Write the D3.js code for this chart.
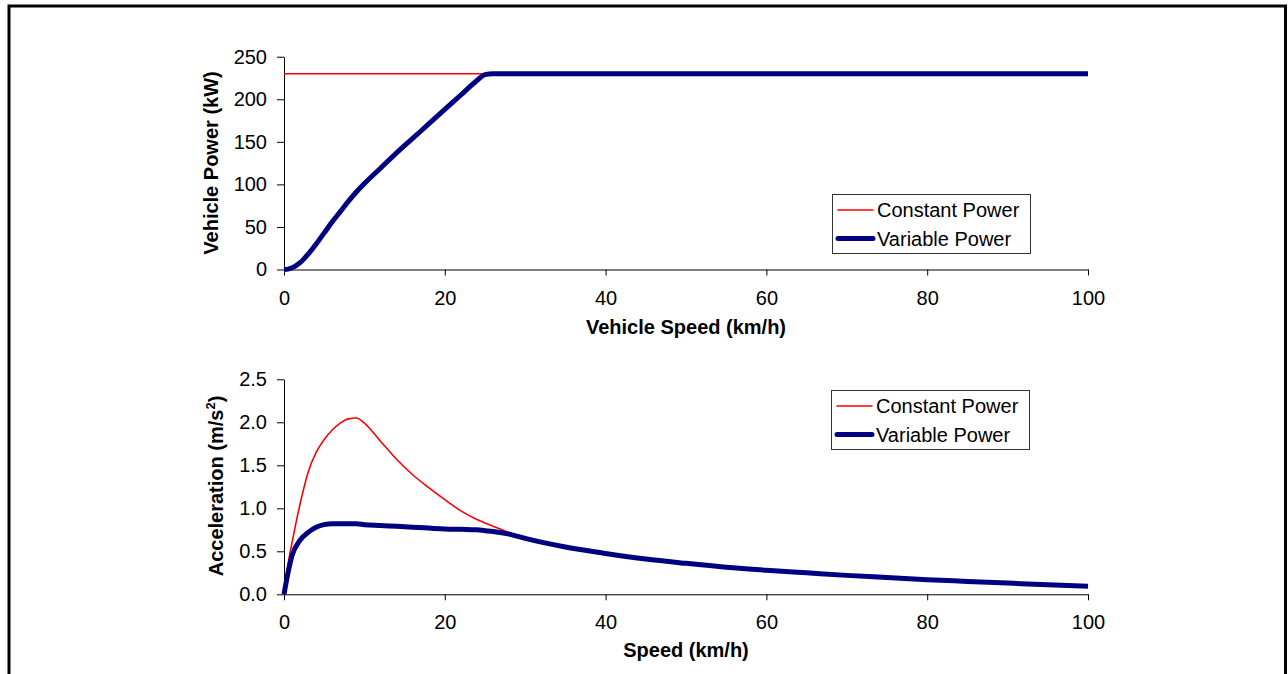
<!DOCTYPE html>
<html>
<head>
<meta charset="utf-8">
<script src="https://cdn.jsdelivr.net/npm/d3@7"></script>
<style>
  body { margin: 0; background: #fff; }
  svg { display: block; font-family: Arial, "Liberation Sans", sans-serif; }
</style>
</head>
<body>
<svg width="1288" height="674"></svg>
<script>
// speed samples (km/h)
const speed = [0, 0.5, 1, 2, 3, 4, 5, 6, 7, 8, 9, 10, 12, 14, 16, 18, 20, 22, 24, 25, 26, 28, 30,
  35, 40, 45, 50, 55, 60, 65, 70, 75, 80, 85, 90, 95, 100];

// vehicle power (kW)
const constPower = speed.map(() => 230);
const varPower = [0, 0.5, 2, 8, 18, 30, 43, 56, 68, 80, 91, 101, 119, 137, 154, 171, 188, 205, 222, 229, 230, 230, 230,
  230, 230, 230, 230, 230, 230, 230, 230, 230, 230, 230, 230, 230, 230];

// acceleration (m/s2)
const constAccel = [0, 0.35, 0.6, 1.05, 1.42, 1.65, 1.8, 1.91, 1.99, 2.04, 2.05, 1.99, 1.78, 1.57, 1.39, 1.24, 1.1, 0.97, 0.87, 0.83, 0.79, 0.72, 0.65,
  0.55, 0.475, 0.41, 0.36, 0.315, 0.28, 0.25, 0.22, 0.195, 0.17, 0.15, 0.13, 0.11, 0.095];
const varAccel = [0, 0.25, 0.45, 0.63, 0.72, 0.78, 0.81, 0.82, 0.82, 0.82, 0.82, 0.81, 0.8, 0.79, 0.78, 0.77, 0.76, 0.755, 0.75, 0.74, 0.73, 0.7, 0.65,
  0.55, 0.475, 0.41, 0.36, 0.315, 0.28, 0.25, 0.22, 0.195, 0.17, 0.15, 0.13, 0.11, 0.095];

const xTicks = [0, 20, 40, 60, 80, 100];
const powerTicks = [0, 50, 100, 150, 200, 250];
const accelTicks = [0, 0.5, 1.0, 1.5, 2.0, 2.5];
const seriesNames = ["Constant Power", "Variable Power"];

const svg = d3.select("svg");

// outer frame
svg.append("rect")
  .attr("x", 9).attr("y", 6)
  .attr("width", 1276.5).attr("height", 720)
  .attr("fill", "none").attr("stroke", "#000").attr("stroke-width", 3);

function drawPanel(cfg) {
  const x = d3.scaleLinear().domain([0, 100]).range([284, 1088]);
  const y = d3.scaleLinear().domain(cfg.yDomain).range(cfg.yRange);
  const g = svg.append("g");

  // x axis
  const xa = g.append("g")
    .attr("transform", "translate(0," + cfg.yRange[0] + ")")
    .call(d3.axisBottom(x).tickValues(xTicks).tickSize(6).tickPadding(15).tickSizeOuter(0));
  xa.selectAll("text").attr("font-size", 20).attr("font-family", "Arial, 'Liberation Sans'").attr("fill", "#000");
  xa.selectAll("line, path").attr("stroke", "#000");

  // y axis
  const ya = g.append("g")
    .attr("transform", "translate(284,0)")
    .call(d3.axisLeft(y).tickValues(cfg.yTicks).tickFormat(cfg.fmt).tickSize(7).tickPadding(10).tickSizeOuter(0));
  ya.selectAll("text").attr("font-size", 20).attr("font-family", "Arial, 'Liberation Sans'").attr("fill", "#000");
  ya.selectAll("line, path").attr("stroke", "#000");

  const line = (vals) => d3.line()
    .x((d, i) => x(speed[i]))
    .y(d => y(d))
    .curve(d3.curveMonotoneX)(vals);

  g.append("path").attr("d", line(cfg.red))
    .attr("fill", "none").attr("stroke", "#ff0000").attr("stroke-width", 1.6);
  g.append("path").attr("d", line(cfg.blue))
    .attr("fill", "none").attr("stroke", "#000080").attr("stroke-width", 5)
    .attr("stroke-linejoin", "round");

  // axis titles
  g.append("text")
    .attr("x", 686).attr("y", cfg.xTitleY)
    .attr("text-anchor", "middle").attr("font-size", 20).attr("font-weight", "bold")
    .text(cfg.xTitle);
  const yt = g.append("text")
    .attr("transform", "translate(" + cfg.yTitleX + "," + cfg.yTitleY + ") rotate(-90)")
    .attr("text-anchor", "middle").attr("font-size", 20).attr("font-weight", "bold");
  cfg.yTitle(yt);

  // legend
  const lg = g.append("g").attr("transform", "translate(" + cfg.legend[0] + "," + cfg.legend[1] + ")");
  lg.append("rect").attr("x", 0.5).attr("y", 0.5).attr("width", 198).attr("height", 59)
    .attr("fill", "#fff").attr("stroke", "#333").attr("stroke-width", 1);
  const colors = ["#ff0000", "#000080"];
  const widths = [1.6, 5];
  seriesNames.forEach((name, i) => {
    const ly = 16 + i * 28.5;
    lg.append("line").attr("x1", 6).attr("x2", 41).attr("y1", ly).attr("y2", ly)
      .attr("stroke", colors[i]).attr("stroke-width", widths[i]).attr("stroke-linecap", "round");
    lg.append("text").attr("x", 45).attr("y", ly + 7).attr("font-size", 20).text(name);
  });
}

drawPanel({
  yDomain: [0, 250], yRange: [269.5, 56.7], yTicks: powerTicks, fmt: d3.format("d"),
  red: constPower, blue: varPower,
  xTitle: "Vehicle Speed (km/h)", xTitleY: 334,
  yTitleX: 218, yTitleY: 163,
  yTitle: t => t.text("Vehicle Power (kW)"),
  legend: [832, 194]
});

drawPanel({
  yDomain: [0, 2.5], yRange: [594.3, 379.3], yTicks: accelTicks, fmt: d3.format(".1f"),
  red: constAccel, blue: varAccel,
  xTitle: "Speed (km/h)", xTitleY: 657,
  yTitleX: 223, yTitleY: 486,
  yTitle: t => {
    t.append("tspan").text("Acceleration (m/s");
    t.append("tspan").attr("font-size", 13).attr("dy", -8).text("2");
    t.append("tspan").attr("dy", 8).text(")");
  },
  legend: [831, 390]
});
</script>
</body>
</html>
